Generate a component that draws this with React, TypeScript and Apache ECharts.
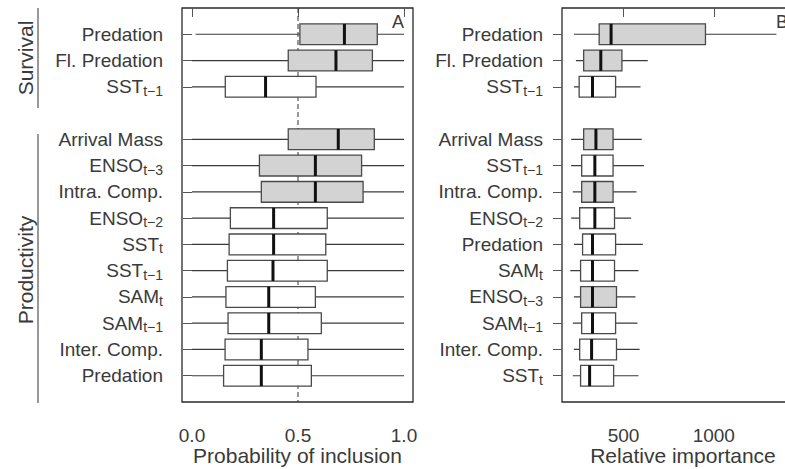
import React, { useEffect, useRef } from "react";
import * as echarts from "echarts";

// ---------- data ----------
// Panel A: probability of inclusion  [whiskerLow, Q1, median, Q3, whiskerHigh]
const survivalLabelsA = ["Predation", "Fl. Predation", "SST_t−1"];
const survivalStatsA = [
  [0.017, 0.509, 0.719, 0.874, 1.0],
  [0.0, 0.454, 0.679, 0.851, 1.0],
  [0.0, 0.157, 0.347, 0.585, 1.0],
];
const survivalSupportedA = [true, true, false];

const productivityLabelsA = [
  "Arrival Mass", "ENSO_t−3", "Intra. Comp.", "ENSO_t−2", "SST_t",
  "SST_t−1", "SAM_t", "SAM_t−1", "Inter. Comp.", "Predation",
];
const productivityStatsA = [
  [0.0, 0.454, 0.69, 0.86, 1.0],
  [0.0, 0.318, 0.582, 0.8, 1.0],
  [0.0, 0.327, 0.582, 0.807, 1.0],
  [0.0, 0.181, 0.385, 0.638, 1.0],
  [0.0, 0.175, 0.385, 0.631, 1.0],
  [0.0, 0.167, 0.382, 0.638, 1.0],
  [0.0, 0.16, 0.362, 0.582, 1.0],
  [0.0, 0.17, 0.362, 0.61, 1.0],
  [0.0, 0.156, 0.327, 0.547, 1.0],
  [0.0, 0.149, 0.327, 0.563, 1.0],
];
const productivitySupportedA = [true, true, true, false, false, false, false, false, false, false];

// Panel B: relative importance
const survivalLabelsB = ["Predation", "Fl. Predation", "SST_t−1"];
const survivalStatsB = [
  [225, 365, 431, 954, 1347],
  [236, 279, 374, 491, 634],
  [225, 254, 328, 456, 594],
];
const survivalSupportedB = [true, true, false];

const productivityLabelsB = [
  "Arrival Mass", "SST_t−1", "Intra. Comp.", "ENSO_t−2", "Predation",
  "SAM_t", "ENSO_t−3", "SAM_t−1", "Inter. Comp.", "SST_t",
];
const productivityStatsB = [
  [210, 279, 347, 442, 601],
  [210, 268, 341, 442, 613],
  [219, 268, 341, 442, 572],
  [210, 257, 341, 450, 542],
  [225, 273, 328, 456, 607],
  [205, 262, 328, 450, 583],
  [225, 262, 328, 461, 566],
  [219, 268, 328, 456, 577],
  [225, 257, 323, 461, 589],
  [219, 262, 312, 445, 583],
];
const productivitySupportedB = [true, false, true, false, false, false, true, false, false, false];

const xTicksA = [0, 0.5, 1.0];
const xTicksB = [500, 1000];
const inclusionThreshold = 0.5;

// ---------- style ----------
const FONT = "'Liberation Sans', Arial, Helvetica, sans-serif";
const TEXT = "#3a3a3a";
const FRAME = "#2a2a2a";
const BOXLINE = "#4a4a4a";
const WHISKER = "#3a3a3a";
const FILL = "#d3d3d3";

function buildRows(
  sLabels: string[], sStats: number[][], sSup: boolean[],
  pLabels: string[], pStats: number[][], pSup: boolean[]
) {
  const data: number[][] = [];
  const labelBySlot: Record<number, string> = {};
  sLabels.forEach((l, i) => {
    const slot = i + 1;
    labelBySlot[slot] = l;
    data.push([slot, ...sStats[i], sSup[i] ? 1 : 0]);
  });
  const offset = sLabels.length + 2;
  pLabels.forEach((l, i) => {
    const slot = i + offset;
    labelBySlot[slot] = l;
    data.push([slot, ...pStats[i], pSup[i] ? 1 : 0]);
  });
  return { data, labelBySlot, slots: Object.keys(labelBySlot).map(Number) };
}

function richLabel(label: string) {
  const idx = label.indexOf("_");
  if (idx < 0) return `{n|${label}}`;
  return `{n|${label.slice(0, idx)}}{s|${label.slice(idx + 1)}}`;
}

const rich = {
  n: { fontSize: 19, lineHeight: 22, color: TEXT, fontFamily: FONT },
  s: { fontSize: 14, lineHeight: 11, verticalAlign: "bottom", color: TEXT, fontFamily: FONT },
};

function renderBox(params: any, api: any) {
  const slot = api.value(0);
  const pLo = api.coord([api.value(1), slot]);
  const pQ1 = api.coord([api.value(2), slot]);
  const pMed = api.coord([api.value(3), slot]);
  const pQ3 = api.coord([api.value(4), slot]);
  const pHi = api.coord([api.value(5), slot]);
  const filled = api.value(6) === 1;
  const h = api.size([0, 1])[1] * 0.79;
  const y = pLo[1];
  return {
    type: "group",
    children: [
      { type: "line", shape: { x1: pLo[0], y1: y, x2: pHi[0], y2: y }, style: { stroke: WHISKER, lineWidth: 1.2 } },
      {
        type: "rect",
        shape: { x: pQ1[0], y: y - h / 2, width: pQ3[0] - pQ1[0], height: h },
        style: { fill: filled ? FILL : "#ffffff", stroke: BOXLINE, lineWidth: 1.3 },
      },
      { type: "line", shape: { x1: pMed[0], y1: y - h / 2, x2: pMed[0], y2: y + h / 2 }, style: { stroke: "#111", lineWidth: 3 } },
    ],
  };
}

export default function App() {
  const ref = useRef<HTMLDivElement>(null);
  useEffect(() => {
    if (!ref.current) return;
    const chart = echarts.init(ref.current, undefined, { renderer: "svg" });
    const A = buildRows(survivalLabelsA, survivalStatsA, survivalSupportedA, productivityLabelsA, productivityStatsA, productivitySupportedA);
    const B = buildRows(survivalLabelsB, survivalStatsB, survivalSupportedB, productivityLabelsB, productivityStatsB, productivitySupportedB);
    const totalSlots = A.slots[A.slots.length - 1] + 1;

    const yAxisBase = (rows: typeof A) => ({
      type: "value",
      inverse: true,
      min: 0,
      max: totalSlots,
      axisLine: { show: false },
      splitLine: { show: false },
      axisTick: { show: true, length: 9, customValues: rows.slots, lineStyle: { color: "#555", width: 1 } },
      axisLabel: {
        show: true,
        margin: 19,
        customValues: rows.slots,
        formatter: (v: number) => richLabel(rows.labelBySlot[Math.round(v)] || ""),
        rich,
      },
    });

    const xAxisBase = {
      type: "value",
      axisLine: { show: false },
      splitLine: { show: false },
      nameLocation: "middle",
      nameGap: 43,
      nameMoveOverlap: false,
      nameTextStyle: { fontSize: 21, color: TEXT, fontFamily: FONT },
    };

    chart.setOption({
      animation: false,
      grid: [
        { left: 182, top: 8, width: 231, height: 394, show: true, borderColor: FRAME, borderWidth: 1.3, backgroundColor: "transparent", outerBoundsMode: "none" },
        { left: 562, top: 8, width: 242, height: 394, show: true, borderColor: FRAME, borderWidth: 1.3, backgroundColor: "transparent", outerBoundsMode: "none" },
      ],
      xAxis: [
        {
          ...xAxisBase,
          gridIndex: 0,
          min: -0.0472,
          max: 1.0425,
          name: "Probability of inclusion",
          axisTick: { show: true, length: 9, customValues: xTicksA, lineStyle: { color: "#555" } },
          axisLabel: {
            margin: 24,
            customValues: xTicksA,
            formatter: (v: number) => v.toFixed(1),
            fontSize: 19,
            color: TEXT,
            fontFamily: FONT,
          },
        },
        {
          ...xAxisBase,
          gridIndex: 1,
          min: 159,
          max: 1500,
          name: "Relative importance",
          axisTick: { show: true, length: 9, customValues: xTicksB, lineStyle: { color: "#555" } },
          axisLabel: {
            margin: 24,
            customValues: xTicksB,
            formatter: (v: number) => String(v),
            fontSize: 19,
            color: TEXT,
            fontFamily: FONT,
          },
        },
      ],
      yAxis: [
        { ...yAxisBase(A), gridIndex: 0 },
        { ...yAxisBase(B), gridIndex: 1 },
      ],
      series: [
        {
          type: "line",
          xAxisIndex: 0,
          yAxisIndex: 0,
          data: [[inclusionThreshold, 0], [inclusionThreshold, totalSlots]],
          symbol: "none",
          silent: true,
          lineStyle: { color: "#333", width: 1, type: [5, 3] },
          z: 1,
        },
        {
          type: "custom",
          xAxisIndex: 0,
          yAxisIndex: 0,
          data: A.data,
          encode: { x: [1, 2, 3, 4, 5], y: 0 },
          renderItem: renderBox,
          z: 2,
        },
        {
          type: "custom",
          xAxisIndex: 1,
          yAxisIndex: 1,
          data: B.data,
          encode: { x: [1, 2, 3, 4, 5], y: 0 },
          renderItem: renderBox,
          z: 2,
        },
      ],
      graphic: [
        { type: "text", x: 398, y: 22, style: { text: "A", fontSize: 18, fontFamily: FONT, fill: TEXT, textAlign: "center", textVerticalAlign: "middle" } },
        { type: "text", x: 776, y: 22, style: { text: "B", fontSize: 18, fontFamily: FONT, fill: TEXT, textAlign: "left", textVerticalAlign: "middle" } },
        { type: "text", x: 25, y: 58, rotation: Math.PI / 2, style: { text: "Survival", fontSize: 21, fontFamily: FONT, fill: TEXT, textAlign: "center", textVerticalAlign: "middle" } },
        { type: "text", x: 25, y: 270, rotation: Math.PI / 2, style: { text: "Productivity", fontSize: 21, fontFamily: FONT, fill: TEXT, textAlign: "center", textVerticalAlign: "middle" } },
        { type: "line", shape: { x1: 38, y1: 8, x2: 38, y2: 108 }, style: { stroke: "#333", lineWidth: 1 } },
        { type: "line", shape: { x1: 38, y1: 134, x2: 38, y2: 403 }, style: { stroke: "#333", lineWidth: 1 } },
      ],
    });
    return () => chart.dispose();
  }, []);
  return <div ref={ref} style={{ position: "fixed", left: 0, top: 0, width: 785, height: 469, background: "#fff" }} />;
}
